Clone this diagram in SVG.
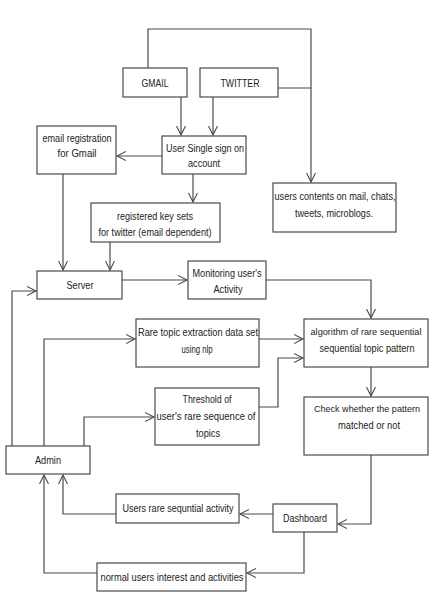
<svg xmlns="http://www.w3.org/2000/svg" width="432" height="596" viewBox="0 0 432 596">
<style>
.box{fill:#fff;stroke:#4a4a4a;stroke-width:1.2}
.t{font-family:"Liberation Sans",Arial,sans-serif;font-size:11px;fill:#222;text-anchor:middle}
.s{font-size:9.5px}
.c{fill:none;stroke:#4a4a4a;stroke-width:1.2}
</style>
<defs>
<marker id="a" markerUnits="userSpaceOnUse" markerWidth="12" markerHeight="12" refX="9" refY="5" orient="auto">
<path d="M0,0.5 L9,5 L0,9.5" fill="none" stroke="#4a4a4a" stroke-width="1.1"/>
</marker>
</defs>
<rect width="432" height="596" fill="#fff"/>
<g id="connectors">
<path class="c" d="M148,68 V29 H311 V182" marker-end="url(#a)"/>
<path class="c" d="M278,88 H311"/>
<path class="c" d="M181,97 V135" marker-end="url(#a)"/>
<path class="c" d="M213,97 V135" marker-end="url(#a)"/>
<path class="c" d="M162,156 H117" marker-end="url(#a)"/>
<path class="c" d="M193,174 V202" marker-end="url(#a)"/>
<path class="c" d="M63,174 V270" marker-end="url(#a)"/>
<path class="c" d="M110,242 V270" marker-end="url(#a)"/>
<path class="c" d="M122,280 H187" marker-end="url(#a)"/>
<path class="c" d="M266,280 H371 V318" marker-end="url(#a)"/>
<path class="c" d="M12,446 V291 H36" marker-end="url(#a)"/>
<path class="c" d="M44,446 V339 H135" marker-end="url(#a)"/>
<path class="c" d="M84,446 V417 H154" marker-end="url(#a)"/>
<path class="c" d="M259,339 H303" marker-end="url(#a)"/>
<path class="c" d="M259,407 H278 V358 H303" marker-end="url(#a)"/>
<path class="c" d="M371,367 V396" marker-end="url(#a)"/>
<path class="c" d="M371,455 V524 H338" marker-end="url(#a)"/>
<path class="c" d="M273,514 H240" marker-end="url(#a)"/>
<path class="c" d="M116,514 H63 V475" marker-end="url(#a)"/>
<path class="c" d="M304,532 V573 H247" marker-end="url(#a)"/>
<path class="c" d="M97,573 H44 V475" marker-end="url(#a)"/>
</g>
<g id="gmail"><rect class="box" x="123" y="68" width="64" height="29"/><text class="t" x="155" y="87" textLength="27" lengthAdjust="spacingAndGlyphs">GMAIL</text></g>
<g id="twitter"><rect class="box" x="200" y="68" width="78" height="29"/><text class="t" x="240" y="87" textLength="39" lengthAdjust="spacingAndGlyphs">TWITTER</text></g>
<g id="sso"><rect class="box" x="162" y="136" width="84" height="38"/><text class="t" x="205" y="152" textLength="78" lengthAdjust="spacingAndGlyphs">User Single sign on</text><text class="t" x="204" y="167" textLength="32" lengthAdjust="spacingAndGlyphs">account</text></g>
<g id="email"><rect class="box" x="37" y="126" width="79" height="48"/><text class="t" x="77" y="142" textLength="69" lengthAdjust="spacingAndGlyphs">email registration</text><text class="t" x="77" y="157" textLength="39" lengthAdjust="spacingAndGlyphs">for Gmail</text></g>
<g id="keysets"><rect class="box" x="91" y="203" width="129" height="39"/><text class="t" x="155" y="220" textLength="76" lengthAdjust="spacingAndGlyphs">registered key sets</text><text class="t" x="155" y="236" textLength="113" lengthAdjust="spacingAndGlyphs">for twitter (email dependent)</text></g>
<g id="contents"><rect class="box" x="273" y="183" width="123" height="49"/><text class="t" x="335" y="200" textLength="121" lengthAdjust="spacingAndGlyphs">users contents on mail, chats,</text><text class="t" x="334" y="217" textLength="78" lengthAdjust="spacingAndGlyphs">tweets, microblogs.</text></g>
<g id="server"><rect class="box" x="37" y="271" width="85" height="28"/><text class="t" x="80" y="289" textLength="27" lengthAdjust="spacingAndGlyphs">Server</text></g>
<g id="monitoring"><rect class="box" x="188" y="261" width="78" height="38"/><text class="t" x="227" y="277" textLength="69" lengthAdjust="spacingAndGlyphs">Monitoring user's</text><text class="t" x="228" y="293" textLength="29" lengthAdjust="spacingAndGlyphs">Activity</text></g>
<g id="rare"><rect class="box" x="136" y="319" width="123" height="48"/><text class="t" x="198" y="336" textLength="120" lengthAdjust="spacingAndGlyphs">Rare topic extraction data set</text><text class="t" x="197" y="353" textLength="31" lengthAdjust="spacingAndGlyphs">using nlp</text></g>
<g id="algorithm"><rect class="box" x="304" y="319" width="124" height="48"/><text class="t s" x="366" y="335" textLength="111" lengthAdjust="spacingAndGlyphs">algorithm of rare sequential</text><text class="t" x="367" y="352" textLength="95" lengthAdjust="spacingAndGlyphs">sequential topic pattern</text></g>
<g id="threshold"><rect class="box" x="155" y="388" width="104" height="57"/><text class="t" x="207" y="403" textLength="49" lengthAdjust="spacingAndGlyphs">Threshold of</text><text class="t" x="206" y="420" textLength="99" lengthAdjust="spacingAndGlyphs">user's rare sequence of</text><text class="t" x="208" y="437" textLength="24" lengthAdjust="spacingAndGlyphs">topics</text></g>
<g id="check"><rect class="box" x="304" y="397" width="124" height="58"/><text class="t s" x="367" y="412" textLength="106" lengthAdjust="spacingAndGlyphs">Check whether the pattern</text><text class="t" x="369" y="429" textLength="62" lengthAdjust="spacingAndGlyphs">matched or not</text></g>
<g id="admin"><rect class="box" x="6" y="446" width="84" height="28"/><text class="t" x="48" y="464" textLength="26" lengthAdjust="spacingAndGlyphs">Admin</text></g>
<g id="usersrare"><rect class="box" x="116" y="494" width="123" height="29"/><text class="t" x="178" y="512" textLength="111" lengthAdjust="spacingAndGlyphs">Users rare sequntial activity</text></g>
<g id="dashboard"><rect class="box" x="273" y="504" width="64" height="28"/><text class="t" x="305" y="522" textLength="44" lengthAdjust="spacingAndGlyphs">Dashboard</text></g>
<g id="normal"><rect class="box" x="97" y="563" width="149" height="28"/><text class="t" x="172" y="581" textLength="143" lengthAdjust="spacingAndGlyphs">normal users interest  and activities</text></g>
</svg>
